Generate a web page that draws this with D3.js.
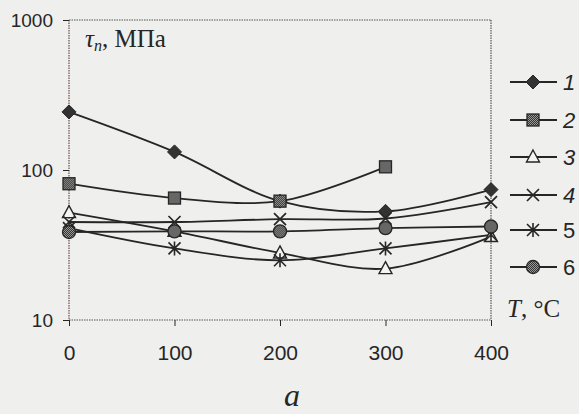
<!DOCTYPE html>
<html><head><meta charset="utf-8">
<script src="https://cdn.jsdelivr.net/npm/d3@7"></script>
<style>
html,body{margin:0;padding:0;background:#efefed;}
svg{display:block;}
</style></head>
<body>
<svg id="c" width="579" height="414"></svg>
<script>
const temps = [0, 100, 200, 300, 400];
const s1 = [244, 132, 62, 53, 74];
const s2 = [81, 65, 62, 105, null];
const s3 = [52, 39, 28, 22, 36];
const s4 = [45, 45, 47, 47.5, 61];
const s5 = [41, 30, 25, 30, 37];
const s6 = [38.6, 39, 39, 41, 42];
const seriesNames = ["1", "2", "3", "4", "5", "6"];
const markerTypes = ["diamond", "square", "triangle", "x", "asterisk", "circle"];
const yTicks = [10, 100, 1000];

const allSeries = [s1, s2, s3, s4, s5, s6];
const svg = d3.select("#c");
const ink = "#262626";

const defs = svg.append("defs");
const pat = defs.append("pattern").attr("id", "dots").attr("width", 2).attr("height", 2).attr("patternUnits", "userSpaceOnUse");
pat.append("rect").attr("width", 2).attr("height", 2).attr("fill", "#9a9a9a");
pat.append("rect").attr("width", 1).attr("height", 1).attr("fill", "#333");
pat.append("rect").attr("x", 1).attr("y", 1).attr("width", 1).attr("height", 1).attr("fill", "#333");

const x = d3.scaleLinear().domain([0, 400]).range([69, 491]);
const y = d3.scaleLog().domain([10, 1000]).range([320, 20]);

// frame (dotted)
const fr = svg.append("g").attr("stroke", "#555").attr("stroke-width", 1.2).attr("stroke-dasharray", "1.5,1");
fr.append("line").attr("x1", x(0)).attr("x2", x(400)).attr("y1", y(1000)).attr("y2", y(1000));
fr.append("line").attr("x1", x(400)).attr("x2", x(400)).attr("y1", y(1000)).attr("y2", y(10));
fr.append("line").attr("x1", x(0)).attr("x2", x(400)).attr("y1", y(10)).attr("y2", y(10));
fr.append("line").attr("x1", x(0)).attr("x2", x(0)).attr("y1", y(1000)).attr("y2", y(10)).attr("stroke", "#6a4a4a");

const sans = "'Liberation Sans', Arial, sans-serif";
// axes
const yAx = svg.append("g").attr("transform", `translate(${x(0)},0)`)
  .call(d3.axisLeft(y).tickValues(yTicks).tickFormat(d3.format("d")).tickSize(6).tickPadding(10));
yAx.select(".domain").remove();
yAx.selectAll("line").attr("stroke", ink);
yAx.selectAll("text").attr("font-family", sans).attr("font-size", 19).attr("fill", ink);

const xAx = svg.append("g").attr("transform", `translate(0,${y(10)})`)
  .call(d3.axisBottom(x).tickValues(temps).tickFormat(d3.format("d")).tickSize(6).tickPadding(19));
xAx.select(".domain").remove();
xAx.selectAll("line").attr("stroke", ink);
xAx.selectAll("text").attr("font-family", sans).attr("font-size", 21).attr("fill", ink);

// lines
const line = d3.line().defined(d => d[1] != null).x(d => x(d[0])).y(d => y(d[1])).curve(d3.curveCatmullRom.alpha(0.5));
allSeries.forEach(s => {
  const pts = temps.map((t, i) => [t, s[i]]).filter(d => d[1] != null);
  svg.append("path").datum(pts).attr("d", line).attr("fill", "none").attr("stroke", ink).attr("stroke-width", 1.8);
});

function marker(g, type, cx, cy) {
  const k = g.append("g").attr("transform", `translate(${cx},${cy})`);
  if (type === "diamond") {
    k.append("path").attr("d", "M0,-7L7,0L0,7L-7,0Z").attr("fill", "#333").attr("stroke", ink);
  } else if (type === "square") {
    k.append("rect").attr("x", -6).attr("y", -6).attr("width", 12).attr("height", 12).attr("fill", "url(#dots)").attr("stroke", ink).attr("stroke-width", 1.3);
  } else if (type === "triangle") {
    k.append("path").attr("d", "M0,-7L6.5,5L-6.5,5Z").attr("fill", "#f4f4f4").attr("stroke", ink).attr("stroke-width", 1.4);
  } else if (type === "x") {
    k.append("path").attr("d", "M-6,-6L6,6M-6,6L6,-6").attr("stroke", ink).attr("stroke-width", 1.7);
  } else if (type === "asterisk") {
    k.append("path").attr("d", "M-6,-6L6,6M-6,6L6,-6M0,-7L0,7").attr("stroke", ink).attr("stroke-width", 1.6);
  } else if (type === "circle") {
    k.append("circle").attr("r", 6.5).attr("fill", "url(#dots)").attr("stroke", ink).attr("stroke-width", 1.3);
  }
}

const mg = svg.append("g");
allSeries.forEach((s, si) => {
  temps.forEach((t, i) => { if (s[i] != null) marker(mg, markerTypes[si], x(t), y(s[i])); });
});

// legend
const legY = [82, 120, 157, 195, 230, 267];
const lg = svg.append("g");
seriesNames.forEach((n, i) => {
  lg.append("line").attr("x1", 510).attr("x2", 557).attr("y1", legY[i]).attr("y2", legY[i]).attr("stroke", ink).attr("stroke-width", 2);
  marker(lg, markerTypes[i], 533, legY[i]);
  lg.append("text").attr("x", 563).attr("y", legY[i] + 8).text(n)
    .attr("font-family", sans).attr("font-size", 22)
    .attr("font-style", i < 4 ? "italic" : "normal").attr("fill", ink);
});

// titles
const serif = "'Liberation Serif', 'Times New Roman', serif";
const t1 = svg.append("text").attr("x", 85).attr("y", 47).attr("font-family", serif).attr("font-size", 25).attr("fill", ink);
t1.append("tspan").attr("font-style", "italic").text("τ");
t1.append("tspan").attr("font-style", "italic").attr("font-size", 16).attr("dy", 4).text("n");
t1.append("tspan").attr("dy", -4).text(", МПа");

const t2 = svg.append("text").attr("x", 507).attr("y", 317).attr("font-family", serif).attr("font-size", 25).attr("fill", ink);
t2.append("tspan").attr("font-style", "italic").text("T");
t2.append("tspan").text(", °C");

svg.append("text").attr("x", 292).attr("y", 406).attr("text-anchor", "middle").attr("font-family", serif)
  .attr("font-style", "italic").attr("font-size", 32).attr("fill", ink).text("a");
</script>
</body></html>
